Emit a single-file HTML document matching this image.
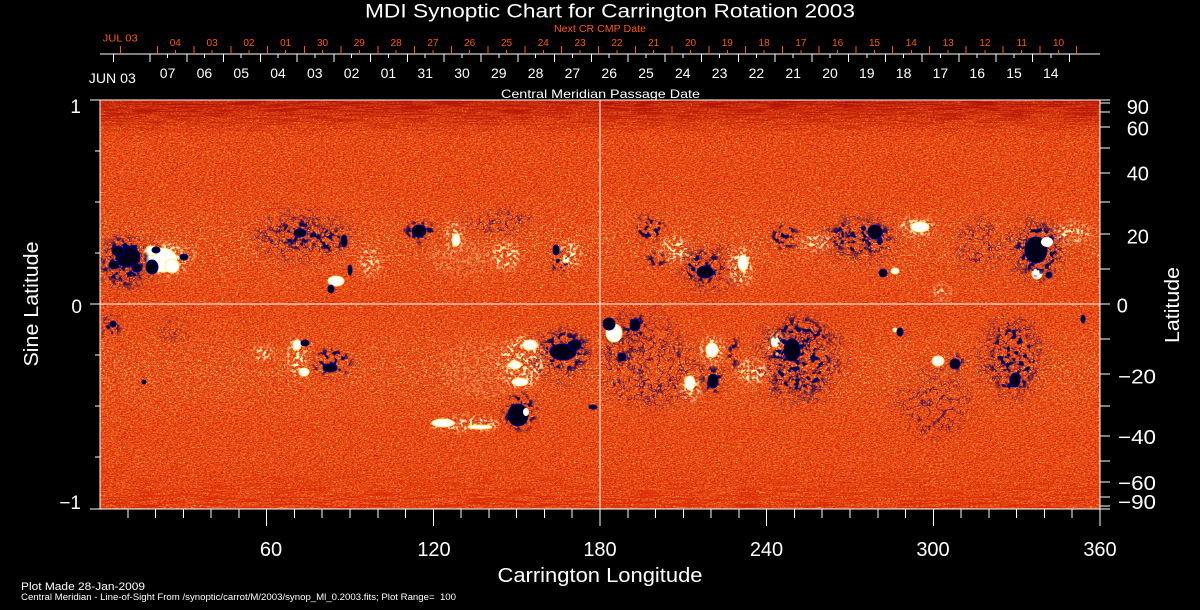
<!DOCTYPE html>
<html><head><meta charset="utf-8"><title>MDI Synoptic Chart</title>
<style>html,body{margin:0;padding:0;background:#000;}svg{display:block;}text{font-family:"Liberation Sans",sans-serif;}</style>
</head><body>
<svg width="1200" height="610" viewBox="0 0 1200 610" xmlns="http://www.w3.org/2000/svg">
<rect x="0" y="0" width="1200" height="610" fill="#000"/>
<defs>
<clipPath id="pc"><rect x="100" y="100" width="1000" height="409"/></clipPath>
<filter id="bgRed" color-interpolation-filters="sRGB" filterUnits="userSpaceOnUse" x="100" y="100" width="1000" height="409">
<feTurbulence type="fractalNoise" baseFrequency="0.42 0.85" numOctaves="2" seed="2" result="t"/>
<feColorMatrix in="t" type="matrix" values="0 0 0 0 0.84  0 0 0 0 0.13  0 0 0 0 0.04  7 0 0 0 -3.5"/>
</filter>
<filter id="bgYel" color-interpolation-filters="sRGB" filterUnits="userSpaceOnUse" x="100" y="100" width="1000" height="409">
<feTurbulence type="fractalNoise" baseFrequency="0.55 0.8" numOctaves="2" seed="9" result="t"/>
<feColorMatrix in="t" type="matrix" values="0 0 0 0 1  0 0 0 0 0.78  0 0 0 0 0.3  0 8 0 0 -5.1"/>
</filter>
<filter id="bgOr" color-interpolation-filters="sRGB" filterUnits="userSpaceOnUse" x="100" y="100" width="1000" height="409">
<feTurbulence type="fractalNoise" baseFrequency="0.5 0.7" numOctaves="2" seed="17" result="t"/>
<feColorMatrix in="t" type="matrix" values="0 0 0 0 1  0 0 0 0 0.44  0 0 0 0 0.08  0 0 6 0 -3.4"/>
</filter>
<filter id="belt" color-interpolation-filters="sRGB" filterUnits="userSpaceOnUse" x="100" y="100" width="1000" height="409">
<feTurbulence type="fractalNoise" baseFrequency="0.5 0.6" numOctaves="2" seed="51" result="t"/>
<feColorMatrix in="t" type="matrix" values="0 0 0 0 1  0 0 0 0 0.92  0 0 0 0 0.55  0 12 0 0 -7.5" result="c"/>
<feComposite in="c" in2="SourceGraphic" operator="in"/>
</filter>
<filter id="streakT" color-interpolation-filters="sRGB" filterUnits="userSpaceOnUse" x="100" y="100" width="1000" height="409">
<feTurbulence type="fractalNoise" baseFrequency="0.03 0.7" numOctaves="2" seed="5" result="t"/>
<feColorMatrix in="t" type="matrix" values="0 0 0 0 0.70  0 0 0 0 0.07  0 0 0 0 0.02  9 0 0 0 -4.4" result="c"/>
<feComposite in="c" in2="SourceGraphic" operator="in"/>
</filter>
<filter id="streakB" color-interpolation-filters="sRGB" filterUnits="userSpaceOnUse" x="100" y="100" width="1000" height="409">
<feTurbulence type="fractalNoise" baseFrequency="0.03 0.7" numOctaves="2" seed="13" result="t"/>
<feColorMatrix in="t" type="matrix" values="0 0 0 0 0.85  0 0 0 0 0.16  0 0 0 0 0.03  9 0 0 0 -4.5" result="c"/>
<feComposite in="c" in2="SourceGraphic" operator="in"/>
</filter>
<filter id="dots" color-interpolation-filters="sRGB" filterUnits="userSpaceOnUse" x="100" y="100" width="1000" height="409">
<feTurbulence type="fractalNoise" baseFrequency="0.6" numOctaves="1" seed="44" result="t"/>
<feColorMatrix in="t" type="matrix" values="0 0 0 0 0  0 0 0 0 0  0 0 0 0 0.45  30 0 0 0 -23.5" result="c"/>
<feComposite in="c" in2="SourceGraphic" operator="in"/>
</filter>
<filter id="netD" color-interpolation-filters="sRGB" filterUnits="userSpaceOnUse" x="100" y="100" width="1000" height="409">
<feTurbulence type="fractalNoise" baseFrequency="0.18" numOctaves="2" seed="21" result="t"/>
<feColorMatrix in="t" type="matrix" values="0 0 0 0 0  0 0 0 0 0  0 0 0 0 0  10 0 0 0 -5.3" result="m"/>
<feGaussianBlur in="SourceGraphic" stdDeviation="3" result="sg"/>
<feComposite in="sg" in2="m" operator="in"/>
</filter>
<filter id="netS" color-interpolation-filters="sRGB" filterUnits="userSpaceOnUse" x="100" y="100" width="1000" height="409">
<feTurbulence type="fractalNoise" baseFrequency="0.1" numOctaves="3" seed="8" result="t"/>
<feColorMatrix in="t" type="matrix" values="0 0 0 0 0  0 0 0 0 0  0 0 0 0 0  1 0 0 0 0" result="r"/>
<feComponentTransfer in="r" result="m"><feFuncA type="table" tableValues="0 0 0 0 0 0 0 0 0 0 0 0 1 0 0 0 0 0 0 0 0 0 0 0 0"/></feComponentTransfer>
<feGaussianBlur in="SourceGraphic" stdDeviation="7" result="sg"/>
<feComposite in="sg" in2="m" operator="in"/>
</filter>
<filter id="plage" color-interpolation-filters="sRGB" filterUnits="userSpaceOnUse" x="100" y="100" width="1000" height="409">
<feTurbulence type="fractalNoise" baseFrequency="0.3" numOctaves="2" seed="33" result="t"/>
<feColorMatrix in="t" type="matrix" values="0 0 0 0 0  0 0 0 0 0  0 0 0 0 0  0 9 0 0 -4.6" result="m"/>
<feGaussianBlur in="SourceGraphic" stdDeviation="3" result="sg"/>
<feComposite in="sg" in2="m" operator="in"/>
</filter>
<linearGradient id="gT" x1="0" y1="0" x2="0" y2="1"><stop offset="0" stop-color="#fff" stop-opacity="1"/><stop offset="1" stop-color="#fff" stop-opacity="0"/></linearGradient>
<linearGradient id="gB" x1="0" y1="0" x2="0" y2="1"><stop offset="0" stop-color="#fff" stop-opacity="0"/><stop offset="1" stop-color="#fff" stop-opacity="1"/></linearGradient>
<linearGradient id="gBelt" x1="0" y1="0" x2="0" y2="1"><stop offset="0" stop-color="#fff" stop-opacity="0"/><stop offset="0.5" stop-color="#fff" stop-opacity="1"/><stop offset="1" stop-color="#fff" stop-opacity="0"/></linearGradient>
<linearGradient id="gDark" x1="0" y1="0" x2="0" y2="1"><stop offset="0" stop-color="#a00800" stop-opacity="0.45"/><stop offset="1" stop-color="#a00800" stop-opacity="0"/></linearGradient>
</defs>

<g clip-path="url(#pc)">
<rect x="100" y="100" width="1000" height="409" fill="#e94e16"/>
<rect x="100" y="100" width="1000" height="409" filter="url(#bgOr)"/>
<rect x="100" y="100" width="1000" height="409" filter="url(#bgRed)"/>
<rect x="100" y="100" width="1000" height="409" filter="url(#bgYel)"/>
<rect x="100" y="190" width="1000" height="110" fill="url(#gBelt)" filter="url(#belt)" opacity="0.8"/>
<rect x="100" y="310" width="1000" height="120" fill="url(#gBelt)" filter="url(#belt)" opacity="0.8"/>
<rect x="100" y="100" width="1000" height="32" fill="url(#gDark)"/>
<rect x="100" y="100" width="1000" height="40" fill="url(#gT)" filter="url(#streakT)"/>
<rect x="100" y="462" width="1000" height="47" fill="url(#gB)" filter="url(#streakB)"/>
<rect x="100" y="110" width="1000" height="380" fill="#fff" filter="url(#dots)"/>

<!-- sparse network filaments -->
<g fill="#000070" filter="url(#netS)" opacity="0.8">
<ellipse cx="500" cy="222" rx="35" ry="13"/>
<ellipse cx="980" cy="245" rx="22" ry="25"/>
<ellipse cx="650" cy="372" rx="52" ry="36"/>
<ellipse cx="935" cy="405" rx="36" ry="32"/>
<ellipse cx="1012" cy="357" rx="32" ry="42"/>
<ellipse cx="172" cy="330" rx="14" ry="8"/>
<ellipse cx="640" cy="350" rx="40" ry="40"/>
<ellipse cx="300" cy="236" rx="50" ry="24"/>
<ellipse cx="860" cy="240" rx="40" ry="22"/>
<ellipse cx="800" cy="360" rx="45" ry="45"/>
<ellipse cx="125" cy="262" rx="28" ry="30"/>
<ellipse cx="1035" cy="250" rx="30" ry="32"/>
<ellipse cx="710" cy="268" rx="30" ry="22"/>
<ellipse cx="560" cy="355" rx="30" ry="28"/>
</g>

<!-- plage speckles -->
<g fill="#fff4c0" filter="url(#plage)">
<ellipse cx="188" cy="256" rx="6" ry="7"/>
<ellipse cx="370" cy="262" rx="10" ry="15"/>
<ellipse cx="454" cy="235" rx="8" ry="15"/>
<ellipse cx="506" cy="256" rx="14" ry="14"/>
<ellipse cx="570" cy="255" rx="10" ry="14"/>
<ellipse cx="675" cy="250" rx="15" ry="13"/>
<ellipse cx="741" cy="267" rx="12" ry="20"/>
<ellipse cx="816" cy="242" rx="16" ry="8"/>
<ellipse cx="917" cy="227" rx="17" ry="10"/>
<ellipse cx="1072" cy="233" rx="18" ry="10"/>
<ellipse cx="941" cy="293" rx="9" ry="7"/>
<ellipse cx="168" cy="259" rx="20" ry="17"/>
<ellipse cx="297" cy="357" rx="10" ry="20"/>
<ellipse cx="263" cy="353" rx="10" ry="7"/>
<ellipse cx="522" cy="362" rx="22" ry="26"/>
<ellipse cx="465" cy="424" rx="35" ry="7"/>
<ellipse cx="480" cy="370" rx="40" ry="30" opacity="0.25"/>
<ellipse cx="712" cy="350" rx="12" ry="14"/>
<ellipse cx="691" cy="388" rx="9" ry="14"/>
<ellipse cx="752" cy="372" rx="15" ry="12"/>
<ellipse cx="775" cy="345" rx="8" ry="12"/>
<ellipse cx="460" cy="258" rx="30" ry="18" opacity="0.3"/>
</g>

<!-- solid white -->
<g fill="#ffffff" stroke="#fff27a" stroke-width="1">
<ellipse cx="162" cy="260" rx="15" ry="12"/>
<ellipse cx="151" cy="251" rx="6" ry="5"/>
<ellipse cx="172" cy="266" rx="7" ry="7"/>
<ellipse cx="336" cy="281" rx="8" ry="5"/>
<ellipse cx="456" cy="240" rx="4" ry="6"/>
<ellipse cx="566" cy="260" rx="3" ry="3"/>
<ellipse cx="743" cy="263" rx="5" ry="8"/>
<ellipse cx="920" cy="227" rx="9" ry="5"/>
<ellipse cx="895" cy="271" rx="4" ry="3"/>
<ellipse cx="1037" cy="274" rx="5" ry="5"/>
<ellipse cx="297" cy="345" rx="4" ry="5"/>
<ellipse cx="304" cy="372" rx="5" ry="4"/>
<ellipse cx="530" cy="345" rx="7" ry="5"/>
<ellipse cx="515" cy="365" rx="6" ry="4"/>
<ellipse cx="520" cy="382" rx="8" ry="4"/>
<ellipse cx="443" cy="423" rx="11" ry="4"/>
<ellipse cx="480" cy="427" rx="12" ry="2"/>
<ellipse cx="614" cy="333" rx="8" ry="9"/>
<ellipse cx="712" cy="350" rx="6" ry="7"/>
<ellipse cx="690" cy="383" rx="5" ry="7"/>
<ellipse cx="775" cy="342" rx="4" ry="5"/>
<ellipse cx="938" cy="361" rx="6" ry="5"/>
<ellipse cx="895" cy="330" rx="2" ry="2"/>
</g>

<!-- dense dark network -->
<g fill="#00005a" filter="url(#netD)">
<ellipse cx="125" cy="262" rx="22" ry="24"/>
<ellipse cx="300" cy="234" rx="22" ry="14"/>
<ellipse cx="330" cy="240" rx="15" ry="12"/>
<ellipse cx="420" cy="232" rx="16" ry="11"/>
<ellipse cx="560" cy="262" rx="9" ry="11"/>
<ellipse cx="650" cy="228" rx="15" ry="12"/>
<ellipse cx="657" cy="260" rx="10" ry="7"/>
<ellipse cx="703" cy="267" rx="20" ry="16"/>
<ellipse cx="785" cy="237" rx="14" ry="12"/>
<ellipse cx="860" cy="237" rx="30" ry="16"/>
<ellipse cx="1037" cy="250" rx="21" ry="25"/>
<ellipse cx="111" cy="326" rx="9" ry="10"/>
<ellipse cx="332" cy="362" rx="19" ry="14"/>
<ellipse cx="565" cy="351" rx="23" ry="20"/>
<ellipse cx="520" cy="412" rx="17" ry="18"/>
<ellipse cx="635" cy="328" rx="12" ry="13"/>
<ellipse cx="713" cy="380" rx="11" ry="13"/>
<ellipse cx="733" cy="352" rx="5" ry="18"/>
<ellipse cx="800" cy="355" rx="30" ry="38"/>
<ellipse cx="783" cy="384" rx="11" ry="8"/>
<ellipse cx="955" cy="363" rx="9" ry="8"/>
<ellipse cx="1012" cy="360" rx="22" ry="32"/>
<ellipse cx="625" cy="357" rx="9" ry="7"/>
</g>

<!-- dark cores -->
<g fill="#000018" stroke="#00008c" stroke-width="1">
<ellipse cx="128" cy="257" rx="12" ry="10"/>
<ellipse cx="118" cy="251" rx="6" ry="5"/>
<ellipse cx="114" cy="265" rx="5" ry="4"/>
<ellipse cx="137" cy="268" rx="5" ry="4"/>
<ellipse cx="152" cy="267" rx="6" ry="7"/>
<ellipse cx="156" cy="250" rx="4" ry="3"/>
<ellipse cx="184" cy="257" rx="4" ry="3"/>
<ellipse cx="300" cy="233" rx="6" ry="4"/>
<ellipse cx="344" cy="241" rx="3" ry="6"/>
<ellipse cx="331" cy="289" rx="3" ry="4"/>
<ellipse cx="350" cy="270" rx="2" ry="5"/>
<ellipse cx="419" cy="231" rx="7" ry="6"/>
<ellipse cx="556" cy="250" rx="3" ry="5"/>
<ellipse cx="705" cy="272" rx="8" ry="6"/>
<ellipse cx="875" cy="232" rx="7" ry="7"/>
<ellipse cx="883" cy="273" rx="4" ry="4"/>
<ellipse cx="1036" cy="250" rx="11" ry="13"/>
<ellipse cx="1049" cy="275" rx="3" ry="3"/>
<ellipse cx="113" cy="324" rx="3" ry="3"/>
<ellipse cx="305" cy="343" rx="4" ry="3"/>
<ellipse cx="330" cy="368" rx="7" ry="4"/>
<ellipse cx="563" cy="352" rx="13" ry="8"/>
<ellipse cx="575" cy="345" rx="6" ry="5"/>
<ellipse cx="518" cy="415" rx="10" ry="11"/>
<ellipse cx="609" cy="324" rx="6" ry="6"/>
<ellipse cx="635" cy="325" rx="5" ry="6"/>
<ellipse cx="622" cy="357" rx="4" ry="4"/>
<ellipse cx="713" cy="381" rx="5" ry="7"/>
<ellipse cx="792" cy="350" rx="8" ry="11"/>
<ellipse cx="900" cy="332" rx="3" ry="4"/>
<ellipse cx="1083" cy="319" rx="2" ry="4"/>
<ellipse cx="144" cy="382" rx="2" ry="2"/>
<ellipse cx="593" cy="407" rx="4" ry="2"/>
<ellipse cx="955" cy="364" rx="5" ry="5"/>
<ellipse cx="1015" cy="380" rx="5" ry="7"/>
</g>
<g fill="#ffffff">
<ellipse cx="526" cy="412" rx="3" ry="4"/>
<ellipse cx="1047" cy="242" rx="6" ry="5"/>
</g>
</g>

<!-- axes -->
<g stroke="#fff" stroke-width="1" shape-rendering="crispEdges" fill="none">
<line x1="90" y1="100" x2="1100" y2="100"/>
<line x1="90" y1="509" x2="1100" y2="509"/>
<line x1="100" y1="100" x2="100" y2="509"/>
<line x1="1100" y1="100" x2="1100" y2="509"/>
<line x1="90" y1="304" x2="1110" y2="304"/>
<line x1="600" y1="100" x2="600" y2="526"/>
<line x1="100" y1="54" x2="1100" y2="54"/>
<line x1="95" y1="151" x2="100" y2="151"/><line x1="95" y1="202" x2="100" y2="202"/><line x1="95" y1="253" x2="100" y2="253"/>
<line x1="95" y1="355" x2="100" y2="355"/><line x1="95" y1="406" x2="100" y2="406"/><line x1="95" y1="457" x2="100" y2="457"/>
<line x1="1100" y1="103" x2="1110" y2="103"/><line x1="1100" y1="112" x2="1110" y2="112"/><line x1="1100" y1="127" x2="1110" y2="127"/>
<line x1="1100" y1="148" x2="1110" y2="148"/><line x1="1100" y1="173" x2="1110" y2="173"/><line x1="1100" y1="202" x2="1110" y2="202"/>
<line x1="1100" y1="234" x2="1110" y2="234"/><line x1="1100" y1="269" x2="1110" y2="269"/>
<line x1="1100" y1="339" x2="1110" y2="339"/><line x1="1100" y1="374" x2="1110" y2="374"/><line x1="1100" y1="406" x2="1110" y2="406"/>
<line x1="1100" y1="436" x2="1110" y2="436"/><line x1="1100" y1="461" x2="1110" y2="461"/><line x1="1100" y1="482" x2="1110" y2="482"/>
<line x1="1100" y1="497" x2="1110" y2="497"/><line x1="1100" y1="506" x2="1110" y2="506"/>
<line x1="1100" y1="100" x2="1110" y2="100"/><line x1="1100" y1="509" x2="1110" y2="509"/>
<line x1="127.8" y1="509" x2="127.8" y2="518"/><line x1="155.6" y1="509" x2="155.6" y2="518"/><line x1="183.3" y1="509" x2="183.3" y2="518"/>
<line x1="211.1" y1="509" x2="211.1" y2="518"/><line x1="238.9" y1="509" x2="238.9" y2="518"/><line x1="266.7" y1="509" x2="266.7" y2="526"/>
<line x1="294.4" y1="509" x2="294.4" y2="518"/><line x1="322.2" y1="509" x2="322.2" y2="518"/><line x1="350" y1="509" x2="350" y2="518"/>
<line x1="377.8" y1="509" x2="377.8" y2="518"/><line x1="405.6" y1="509" x2="405.6" y2="518"/><line x1="433.3" y1="509" x2="433.3" y2="526"/>
<line x1="461.1" y1="509" x2="461.1" y2="518"/><line x1="488.9" y1="509" x2="488.9" y2="518"/><line x1="516.7" y1="509" x2="516.7" y2="518"/>
<line x1="544.4" y1="509" x2="544.4" y2="518"/><line x1="572.2" y1="509" x2="572.2" y2="518"/>
<line x1="627.8" y1="509" x2="627.8" y2="518"/><line x1="655.6" y1="509" x2="655.6" y2="518"/><line x1="683.3" y1="509" x2="683.3" y2="518"/>
<line x1="711.1" y1="509" x2="711.1" y2="518"/><line x1="738.9" y1="509" x2="738.9" y2="518"/><line x1="766.7" y1="509" x2="766.7" y2="526"/>
<line x1="794.4" y1="509" x2="794.4" y2="518"/><line x1="822.2" y1="509" x2="822.2" y2="518"/><line x1="850" y1="509" x2="850" y2="518"/>
<line x1="877.8" y1="509" x2="877.8" y2="518"/><line x1="905.6" y1="509" x2="905.6" y2="518"/><line x1="933.3" y1="509" x2="933.3" y2="526"/>
<line x1="961.1" y1="509" x2="961.1" y2="518"/><line x1="988.9" y1="509" x2="988.9" y2="518"/><line x1="1016.7" y1="509" x2="1016.7" y2="518"/>
<line x1="1044.4" y1="509" x2="1044.4" y2="518"/><line x1="1072.2" y1="509" x2="1072.2" y2="518"/><line x1="1100" y1="509" x2="1100" y2="526"/>
<line x1="113.3" y1="54" x2="113.3" y2="62"/><line x1="150.1" y1="54" x2="150.1" y2="62"/><line x1="186.8" y1="54" x2="186.8" y2="62"/>
<line x1="223.6" y1="54" x2="223.6" y2="62"/><line x1="260.4" y1="54" x2="260.4" y2="62"/><line x1="297.2" y1="54" x2="297.2" y2="62"/>
<line x1="333.9" y1="54" x2="333.9" y2="62"/><line x1="370.7" y1="54" x2="370.7" y2="62"/><line x1="407.5" y1="54" x2="407.5" y2="62"/>
<line x1="444.2" y1="54" x2="444.2" y2="62"/><line x1="481" y1="54" x2="481" y2="62"/><line x1="517.8" y1="54" x2="517.8" y2="62"/>
<line x1="554.5" y1="54" x2="554.5" y2="62"/><line x1="591.3" y1="54" x2="591.3" y2="62"/><line x1="628.1" y1="54" x2="628.1" y2="62"/>
<line x1="664.9" y1="54" x2="664.9" y2="62"/><line x1="701.6" y1="54" x2="701.6" y2="62"/><line x1="738.4" y1="54" x2="738.4" y2="62"/>
<line x1="775.2" y1="54" x2="775.2" y2="62"/><line x1="811.9" y1="54" x2="811.9" y2="62"/><line x1="848.7" y1="54" x2="848.7" y2="62"/>
<line x1="885.5" y1="54" x2="885.5" y2="62"/><line x1="922.2" y1="54" x2="922.2" y2="62"/><line x1="959" y1="54" x2="959" y2="62"/>
<line x1="995.8" y1="54" x2="995.8" y2="62"/><line x1="1032.6" y1="54" x2="1032.6" y2="62"/><line x1="1069.3" y1="54" x2="1069.3" y2="62"/>
<line x1="167.6" y1="54" x2="167.6" y2="58"/><line x1="204.4" y1="54" x2="204.4" y2="58"/><line x1="241.2" y1="54" x2="241.2" y2="58"/>
<line x1="278" y1="54" x2="278" y2="58"/><line x1="314.8" y1="54" x2="314.8" y2="58"/><line x1="351.6" y1="54" x2="351.6" y2="58"/>
<line x1="388.4" y1="54" x2="388.4" y2="58"/><line x1="425.2" y1="54" x2="425.2" y2="58"/><line x1="462" y1="54" x2="462" y2="58"/>
<line x1="498.8" y1="54" x2="498.8" y2="58"/><line x1="535.6" y1="54" x2="535.6" y2="58"/><line x1="572.4" y1="54" x2="572.4" y2="58"/>
<line x1="609.2" y1="54" x2="609.2" y2="58"/><line x1="646" y1="54" x2="646" y2="58"/><line x1="682.8" y1="54" x2="682.8" y2="58"/>
<line x1="719.6" y1="54" x2="719.6" y2="58"/><line x1="756.4" y1="54" x2="756.4" y2="58"/><line x1="793.2" y1="54" x2="793.2" y2="58"/>
<line x1="830" y1="54" x2="830" y2="58"/><line x1="866.8" y1="54" x2="866.8" y2="58"/><line x1="903.6" y1="54" x2="903.6" y2="58"/>
<line x1="940.4" y1="54" x2="940.4" y2="58"/><line x1="977.2" y1="54" x2="977.2" y2="58"/><line x1="1014" y1="54" x2="1014" y2="58"/>
<line x1="1050.8" y1="54" x2="1050.8" y2="58"/>
</g>
<g stroke="#ff5a00" stroke-width="1" shape-rendering="crispEdges">
<line x1="120.5" y1="46" x2="120.5" y2="54"/><line x1="157.3" y1="46" x2="157.3" y2="54"/><line x1="194" y1="46" x2="194" y2="54"/>
<line x1="230.8" y1="46" x2="230.8" y2="54"/><line x1="267.6" y1="46" x2="267.6" y2="54"/><line x1="304.4" y1="46" x2="304.4" y2="54"/>
<line x1="341.1" y1="46" x2="341.1" y2="54"/><line x1="377.9" y1="46" x2="377.9" y2="54"/><line x1="414.7" y1="46" x2="414.7" y2="54"/>
<line x1="451.4" y1="46" x2="451.4" y2="54"/><line x1="488.2" y1="46" x2="488.2" y2="54"/><line x1="525" y1="46" x2="525" y2="54"/>
<line x1="561.7" y1="46" x2="561.7" y2="54"/><line x1="598.5" y1="46" x2="598.5" y2="54"/><line x1="635.3" y1="46" x2="635.3" y2="54"/>
<line x1="672" y1="46" x2="672" y2="54"/><line x1="708.8" y1="46" x2="708.8" y2="54"/><line x1="745.6" y1="46" x2="745.6" y2="54"/>
<line x1="782.4" y1="46" x2="782.4" y2="54"/><line x1="819.1" y1="46" x2="819.1" y2="54"/><line x1="855.9" y1="46" x2="855.9" y2="54"/>
<line x1="892.7" y1="46" x2="892.7" y2="54"/><line x1="929.4" y1="46" x2="929.4" y2="54"/><line x1="966.2" y1="46" x2="966.2" y2="54"/>
<line x1="1003" y1="46" x2="1003" y2="54"/><line x1="1039.8" y1="46" x2="1039.8" y2="54"/><line x1="1076.5" y1="46" x2="1076.5" y2="54"/>
<line x1="175.3" y1="50" x2="175.3" y2="54"/><line x1="212.1" y1="50" x2="212.1" y2="54"/><line x1="248.9" y1="50" x2="248.9" y2="54"/>
<line x1="285.7" y1="50" x2="285.7" y2="54"/><line x1="322.5" y1="50" x2="322.5" y2="54"/><line x1="359.3" y1="50" x2="359.3" y2="54"/>
<line x1="396.1" y1="50" x2="396.1" y2="54"/><line x1="432.9" y1="50" x2="432.9" y2="54"/><line x1="469.7" y1="50" x2="469.7" y2="54"/>
<line x1="506.5" y1="50" x2="506.5" y2="54"/><line x1="543.3" y1="50" x2="543.3" y2="54"/><line x1="580.1" y1="50" x2="580.1" y2="54"/>
<line x1="616.9" y1="50" x2="616.9" y2="54"/><line x1="653.7" y1="50" x2="653.7" y2="54"/><line x1="690.5" y1="50" x2="690.5" y2="54"/>
<line x1="727.3" y1="50" x2="727.3" y2="54"/><line x1="764.1" y1="50" x2="764.1" y2="54"/><line x1="800.9" y1="50" x2="800.9" y2="54"/>
<line x1="837.7" y1="50" x2="837.7" y2="54"/><line x1="874.5" y1="50" x2="874.5" y2="54"/><line x1="911.3" y1="50" x2="911.3" y2="54"/>
<line x1="948.1" y1="50" x2="948.1" y2="54"/><line x1="984.9" y1="50" x2="984.9" y2="54"/><line x1="1021.7" y1="50" x2="1021.7" y2="54"/>
<line x1="1058.5" y1="50" x2="1058.5" y2="54"/>
</g>

<!-- texts -->
<text x="365" y="17.5" font-size="19" fill="#fff" textLength="490" lengthAdjust="spacingAndGlyphs">MDI Synoptic Chart for Carrington Rotation 2003</text>
<text x="554" y="32" font-size="10" fill="#ff5a00" textLength="92" lengthAdjust="spacingAndGlyphs">Next CR CMP Date</text>
<g font-size="10" fill="#ff5a00" text-anchor="middle">
<text x="120.2" y="41.7" textLength="35" lengthAdjust="spacingAndGlyphs">JUL 03</text>
<text x="175.3" y="46">04</text><text x="212.1" y="46">03</text><text x="248.9" y="46">02</text><text x="285.7" y="46">01</text>
<text x="322.5" y="46">30</text><text x="359.3" y="46">29</text><text x="396.1" y="46">28</text><text x="432.9" y="46">27</text>
<text x="469.7" y="46">26</text><text x="506.5" y="46">25</text><text x="543.3" y="46">24</text><text x="580.1" y="46">23</text>
<text x="616.9" y="46">22</text><text x="653.7" y="46">21</text><text x="690.5" y="46">20</text><text x="727.3" y="46">19</text>
<text x="764.1" y="46">18</text><text x="800.9" y="46">17</text><text x="837.7" y="46">16</text><text x="874.5" y="46">15</text>
<text x="911.3" y="46">14</text><text x="948.1" y="46">13</text><text x="984.9" y="46">12</text><text x="1021.7" y="46">11</text>
<text x="1058.5" y="46">10</text>
</g>
<g font-size="14" fill="#fff" text-anchor="middle">
<text x="112.3" y="83" textLength="47" lengthAdjust="spacingAndGlyphs">JUN 03</text>
<text x="167.6" y="78">07</text><text x="204.4" y="78">06</text><text x="241.2" y="78">05</text><text x="278" y="78">04</text>
<text x="314.8" y="78">03</text><text x="351.6" y="78">02</text><text x="388.4" y="78">01</text><text x="425.2" y="78">31</text>
<text x="462" y="78">30</text><text x="498.8" y="78">29</text><text x="535.6" y="78">28</text><text x="572.4" y="78">27</text>
<text x="609.2" y="78">26</text><text x="646" y="78">25</text><text x="682.8" y="78">24</text><text x="719.6" y="78">23</text>
<text x="756.4" y="78">22</text><text x="793.2" y="78">21</text><text x="830" y="78">20</text><text x="866.8" y="78">19</text>
<text x="903.6" y="78">18</text><text x="940.4" y="78">17</text><text x="977.2" y="78">16</text><text x="1014" y="78">15</text>
<text x="1050.8" y="78">14</text>
</g>
<text x="501" y="98" font-size="12" fill="#fff" textLength="199" lengthAdjust="spacingAndGlyphs">Central Meridian Passage Date</text>

<g font-size="19" fill="#fff" text-anchor="end">
<text x="81" y="113">1</text>
<text x="82" y="313">0</text>
<text x="81" y="509">−1</text>
</g>
<g font-size="20" fill="#fff">
<text x="1126.7" y="114">90</text>
<text x="1126.7" y="135.7">60</text>
<text x="1126.7" y="180.7">40</text>
<text x="1126.7" y="243.3">20</text>
<text x="1116.7" y="312.7">0</text>
<text x="1118" y="383.3" textLength="38" lengthAdjust="spacingAndGlyphs">−20</text>
<text x="1118" y="444" textLength="38" lengthAdjust="spacingAndGlyphs">−40</text>
<text x="1118" y="490" textLength="38" lengthAdjust="spacingAndGlyphs">−60</text>
<text x="1118" y="509" textLength="38" lengthAdjust="spacingAndGlyphs">−90</text>
</g>
<g font-size="20" fill="#fff" text-anchor="middle">
<text x="271" y="556">60</text>
<text x="434" y="556">120</text>
<text x="600" y="556">180</text>
<text x="766.5" y="556">240</text>
<text x="933" y="556">300</text>
<text x="1100" y="556">360</text>
</g>
<text x="600" y="582" font-size="20" fill="#fff" text-anchor="middle" textLength="205" lengthAdjust="spacingAndGlyphs">Carrington Longitude</text>
<text transform="translate(38,304) rotate(-90)" font-size="20" fill="#fff" text-anchor="middle" textLength="125" lengthAdjust="spacingAndGlyphs">Sine Latitude</text>
<text transform="translate(1179,305) rotate(-90)" font-size="20" fill="#fff" text-anchor="middle" textLength="76" lengthAdjust="spacingAndGlyphs">Latitude</text>
<text x="21" y="590" font-size="11" fill="#fff" textLength="124" lengthAdjust="spacingAndGlyphs">Plot Made 28-Jan-2009</text>
<text x="21" y="600" font-size="9" fill="#fff" textLength="435" lengthAdjust="spacingAndGlyphs">Central Meridian - Line-of-Sight From /synoptic/carrot/M/2003/synop_Ml_0.2003.fits; Plot Range=&#160;&#160;100</text>
</svg>
</body></html>
